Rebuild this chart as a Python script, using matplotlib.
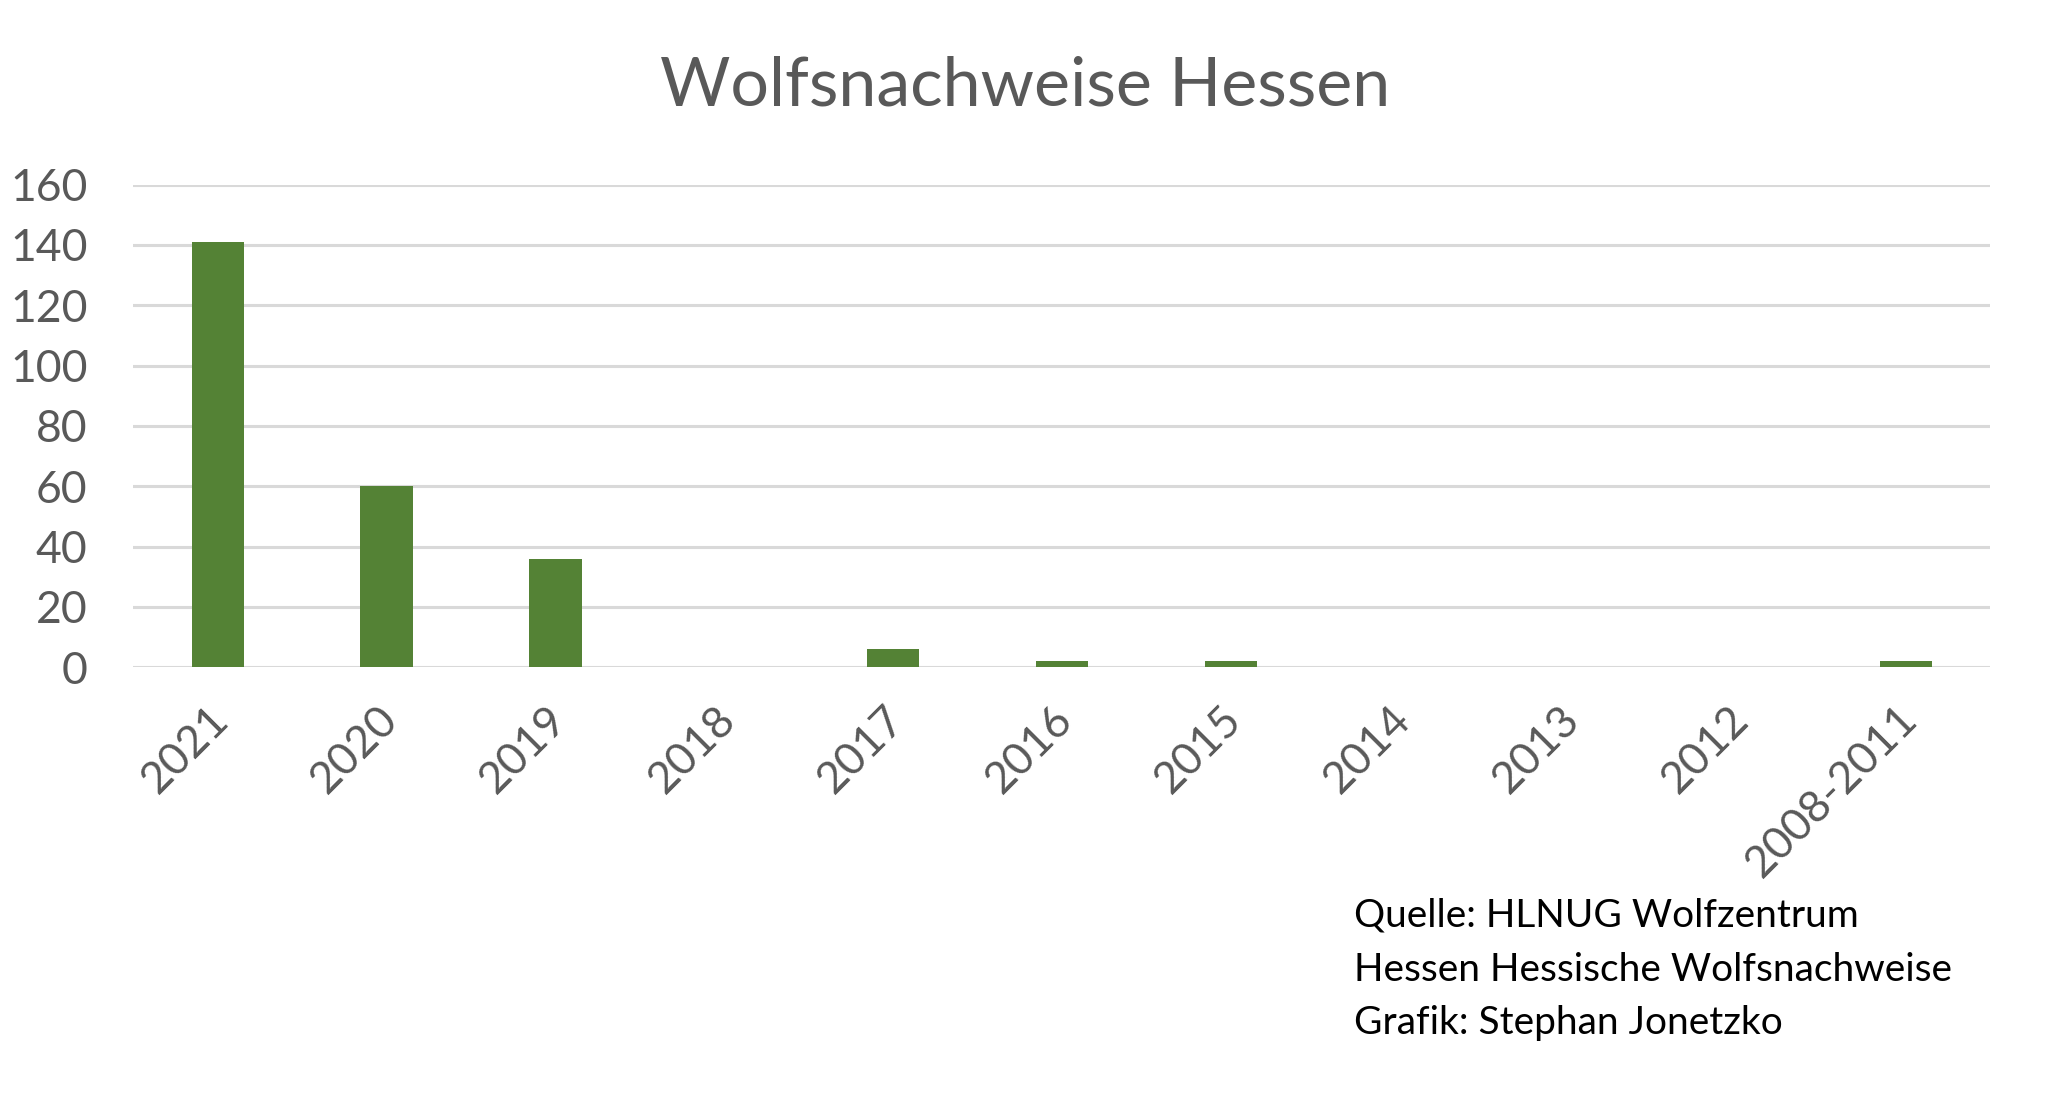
import matplotlib.pyplot as plt
import matplotlib.transforms as mtransforms

plt.rcParams['font.family'] = ['Lato', 'DejaVu Sans']

years = ['2021', '2020', '2019', '2018', '2017', '2016', '2015',
         '2014', '2013', '2012', '2008-2011']
counts = [141, 60, 36, 0, 6, 2, 2, 0, 0, 0, 2]
yticks = [0, 20, 40, 60, 80, 100, 120, 140, 160]

bar_color = '#548235'
grid_color = '#D9D9D9'
label_color = '#595959'

fig = plt.figure(figsize=(20.48, 10.99), dpi=100)
ax = fig.add_axes([0.0651, 0.3929, 0.9068, 0.4392])

x = list(range(len(years)))
ax.bar(x, counts, width=0.31, color=bar_color, zorder=3)

ax.set_xlim(-0.5, len(years) - 0.5)
ax.set_ylim(0, 160)
ax.set_yticks(yticks)
ax.set_yticklabels([str(v) for v in yticks], fontsize=32, color=label_color)
ax.set_xticks(x)
ax.set_xticklabels([])

# rotated category labels, anchored just below and left of each tick
lbl_trans = (mtransforms.blended_transform_factory(ax.transData, ax.transAxes)
             + mtransforms.ScaledTranslation(-10 / 100, -31 / 100,
                                             fig.dpi_scale_trans))
for i, yr in zip(x, years):
    ax.text(i, 0, yr, transform=lbl_trans, fontsize=32, color=label_color,
            rotation=45, ha='right', va='top', rotation_mode='anchor')

ax.tick_params(axis='y', length=0, pad=33)
ax.tick_params(axis='x', length=0)

ax.grid(axis='y', color=grid_color, linewidth=2.2, zorder=0)
for s in ax.spines.values():
    s.set_visible(False)

fig.text(0.5006, 0.921, 'Wolfsnachweise Hessen', ha='center', va='center',
         fontsize=49, color=label_color)

footer = ['Quelle: HLNUG Wolfzentrum',
          'Hessen Hessische Wolfsnachweise',
          'Grafik: Stephan Jonetzko']
for i, line in enumerate(footer):
    fig.text(0.661, 0.1667 - i * 0.0489, line, ha='left', va='center',
             fontsize=28, color='black')

fig.savefig('out.png', dpi=100, facecolor='white')
